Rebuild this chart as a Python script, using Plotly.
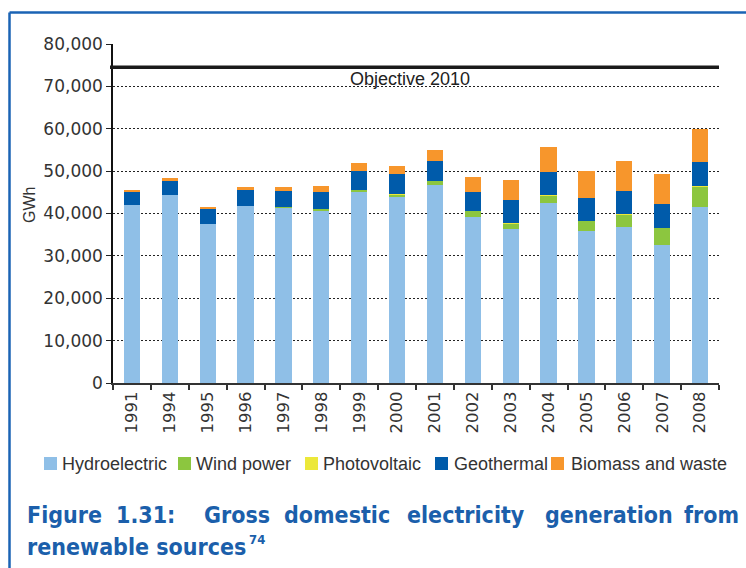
import plotly.graph_objects as go

# Gross domestic electricity generation from renewable sources (GWh)
years = ["1991", "1994", "1995", "1996", "1997", "1998", "1999", "2000",
         "2001", "2002", "2003", "2004", "2005", "2006", "2007", "2008"]
hydro = [42000, 44400, 37500, 41800, 41400, 40800, 45100, 43900,
         46700, 39200, 36300, 42500, 35900, 36800, 32600, 41500]
wind = [0, 0, 0, 0, 100, 300, 400, 600,
        1000, 1400, 1450, 1850, 2350, 2970, 4030, 4860]
photovoltaic = [0, 0, 0, 0, 0, 0, 0, 20,
                20, 20, 120, 30, 30, 35, 40, 200]
geothermal = [3300, 3500, 3600, 3700, 3800, 4000, 4500, 4700,
              4700, 4500, 5300, 5400, 5300, 5600, 5600, 5500]
biomass = [200, 400, 400, 800, 1000, 1400, 1900, 2100,
           2600, 3500, 4700, 5900, 6500, 6900, 7100, 7800]
objective_2010 = 74500

series_names = ["Hydroelectric", "Wind power", "Photovoltaic", "Geothermal", "Biomass and waste"]
series_values = [hydro, wind, photovoltaic, geothermal, biomass]
series_colors = ["#8fbfe7", "#8cc63f", "#ece83a", "#005baa", "#f7962c"]

W, H = 746, 568
L, R, T, B = 113, 27, 44, 185
PW, PH = W - L - R, H - T - B


def px(x):
    return (x - L) / PW


def py(y):
    return (H - B - y) / PH


fig = go.Figure()
for name, vals, col in zip(series_names, series_values, series_colors):
    fig.add_trace(go.Bar(x=years, y=vals, name=name, marker=dict(color=col, line=dict(width=0)),
                         showlegend=False))

shapes = []
annotations = []

# Objective 2010 line
shapes.append(dict(type="line", xref="paper", yref="y", x0=px(110), x1=1,
                   y0=objective_2010, y1=objective_2010,
                   line=dict(color="#1a1a1a", width=3.5)))
annotations.append(dict(text="Objective 2010", xref="paper", yref="y", x=px(410), y=objective_2010,
                        xanchor="center", yanchor="top", yshift=0, showarrow=False,
                        font=dict(family="Liberation Sans, Arial", size=18, color="#222222")))

# Blue frame around the figure
frame_col = "#1a63b4"
shapes.append(dict(type="line", xref="paper", yref="paper", x0=px(9.5), x1=px(9.5),
                   y0=py(12.5), y1=py(600), line=dict(color=frame_col, width=2.5)))
shapes.append(dict(type="line", xref="paper", yref="paper", x0=px(9.5), x1=px(760),
                   y0=py(12.5), y1=py(12.5), line=dict(color=frame_col, width=2.5)))

# Y-axis title
annotations.append(dict(text="GWh", xref="paper", yref="paper", x=px(29), y=py(205),
                        textangle=-90, showarrow=False, xanchor="center", yanchor="middle",
                        font=dict(family="Liberation Sans, Arial", size=16, color="#333333")))

# Legend drawn as swatches with labels
swatch_x = [44, 178, 305, 435, 551]
label_x = [60, 194, 321, 452, 569]
for name, col, sx, lx in zip(series_names, series_colors, swatch_x, label_x):
    shapes.append(dict(type="rect", xref="paper", yref="paper", x0=px(sx), x1=px(sx + 13),
                       y0=py(470), y1=py(457), fillcolor=col, line=dict(width=0)))
    annotations.append(dict(text=name, xref="paper", yref="paper", x=px(lx), y=py(464),
                            xanchor="left", yanchor="middle", showarrow=False,
                            font=dict(family="Liberation Sans, Arial", size=18, color="#333333")))

# Caption, justified word by word
title_font = dict(family="DejaVu Sans Condensed, Liberation Sans Narrow, Arial Narrow",
                  size=23, color="#1b5fab")
line1 = [("Figure", 25), ("1.31:", 114), ("Gross", 202),
         ("domestic", 282), ("electricity", 405), ("generation", 543)]
for word, x in line1:
    annotations.append(dict(text="<b>" + word + "</b>", xref="paper", yref="paper", x=px(x), y=py(515),
                            xanchor="left", yanchor="middle", showarrow=False, font=title_font))
annotations.append(dict(text="<b>from</b>", xref="paper", yref="paper", x=px(741), y=py(515),
                        xanchor="right", yanchor="middle", showarrow=False, font=title_font))
annotations.append(dict(text="<b>renewable sources</b>", xref="paper", yref="paper",
                        x=px(25), y=py(547), xanchor="left", yanchor="middle", showarrow=False,
                        font=title_font))
annotations.append(dict(text="<b>74</b>", xref="paper", yref="paper",
                        x=px(247), y=py(539), xanchor="left", yanchor="middle", showarrow=False,
                        font=dict(family=title_font["family"], size=13, color="#1b5fab")))

fig.update_layout(
    width=W, height=H,
    margin=dict(l=L, r=R, t=T, b=B, pad=0),
    barmode="stack", bargap=0.57,
    plot_bgcolor="white", paper_bgcolor="white",
    shapes=shapes, annotations=annotations,
    xaxis=dict(type="category", tickson="boundaries", ticks="outside", ticklen=5,
               tickcolor="#333333", tickwidth=1.5, tickangle=-90,
               showline=True, linecolor="#333333", linewidth=2, showgrid=False,
               tickfont=dict(family="DejaVu Sans", size=16.5, color="#333333")),
    yaxis=dict(range=[0, 80000], dtick=10000, tickformat=",", ticks="outside", ticklen=5,
               tickcolor="#222222", showline=True, linecolor="#111111", linewidth=1.5,
               showgrid=True, gridcolor="#222222", gridwidth=1, griddash="2px,2px",
               zeroline=False,
               tickfont=dict(family="DejaVu Sans", size=17, color="#333333")),
)

fig.write_html("out.html")
